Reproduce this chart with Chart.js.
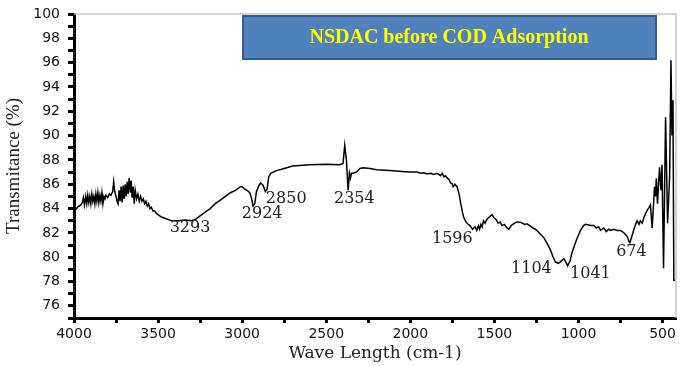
<!DOCTYPE html>
<html>
<head>
<meta charset="utf-8">
<script src="https://cdn.jsdelivr.net/npm/chart.js@4/dist/chart.umd.min.js"></script>
<style>
  body { margin: 0; background: #fff; }
  #wrap { width: 685px; height: 366px; }
</style>
</head>
<body>
<div id="wrap"><canvas id="ftirChart" width="685" height="366"></canvas></div>
<script>
// wave numbers (cm-1), left to right
const waveNumbers = [
  4000, 3990, 3980, 3970, 3960, 3950, 3944, 3938, 3930, 3924, 3918, 3912, 3906, 3900, 3894, 3888,
  3882, 3876, 3870, 3864, 3858, 3852, 3846, 3840, 3834, 3828, 3822, 3816, 3810, 3800, 3790, 3780,
  3770, 3764, 3758, 3750, 3744, 3738, 3732, 3726, 3720, 3714, 3708, 3702, 3696, 3690, 3684, 3678,
  3672, 3665, 3660, 3654, 3648, 3642, 3636, 3628, 3620, 3612, 3604, 3596, 3588, 3580, 3572, 3564,
  3556, 3548, 3540, 3530, 3520, 3510, 3500, 3480, 3460, 3440, 3420, 3380, 3340, 3300, 3280, 3250,
  3220, 3190, 3160, 3130, 3100, 3070, 3040, 3010, 3000, 2985, 2970, 2955, 2945, 2935, 2925, 2915,
  2900, 2890, 2875, 2862, 2852, 2842, 2830, 2800, 2750, 2700, 2600, 2500, 2420, 2400, 2390, 2380,
  2370, 2362, 2356, 2350, 2340, 2320, 2300, 2280, 2240, 2200, 2150, 2100, 2050, 2000, 1960, 1940,
  1920, 1900, 1880, 1860, 1840, 1820, 1810, 1800, 1790, 1780, 1770, 1760, 1752, 1745, 1735, 1722,
  1710, 1700, 1690, 1683, 1670, 1660, 1645, 1630, 1615, 1605, 1595, 1588, 1580, 1573, 1565, 1555,
  1545, 1530, 1514, 1500, 1490, 1478, 1465, 1455, 1440, 1425, 1414, 1400, 1380, 1365, 1340, 1320,
  1306, 1290, 1270, 1256, 1240, 1220, 1206, 1185, 1167, 1150, 1137, 1120, 1100, 1087, 1075, 1064,
  1050, 1040, 1028, 1010, 988, 970, 958, 940, 925, 909, 895, 880, 869, 860, 850, 835,
  820, 810, 790, 770, 750, 730, 710, 700, 694, 685, 670, 660, 651, 640, 632, 621,
  610, 600, 590, 580, 572, 562, 555, 548, 542, 537, 530, 524, 518, 510, 503, 494,
  482, 470, 458, 450, 444, 438, 433, 425
];

// transmittance (%) at each wave number
const transmittance = [
  83.7, 83.9, 84.1, 84.2, 84.3, 84.5, 84.9, 84.3, 85.0, 84.4, 85.1, 84.5, 85.0, 84.4, 85.2, 84.6,
  85.0, 84.4, 85.2, 84.6, 85.3, 84.5, 85.1, 84.6, 85.3, 84.4, 85.0, 84.8, 85.1, 84.9, 85.2, 85.1,
  85.4, 86.2, 85.4, 85.0, 84.6, 84.4, 85.5, 84.6, 85.8, 84.5, 85.9, 84.8, 86.0, 85.0, 86.2, 85.2,
  86.5, 85.3, 86.3, 84.9, 85.8, 84.4, 85.5, 84.8, 85.2, 84.6, 85.0, 84.6, 84.8, 84.4, 84.6, 84.2,
  84.4, 84.0, 84.1, 83.8, 83.8, 83.6, 83.5, 83.3, 83.2, 83.1, 83.0, 83.0, 83.05, 83.0, 83.1, 83.4,
  83.7, 84.0, 84.4, 84.7, 85.0, 85.3, 85.5, 85.8, 85.8, 85.6, 85.5, 85.3, 84.9, 84.2, 84.4, 85.4,
  85.9, 86.1, 85.9, 85.4, 85.6, 86.6, 86.9, 87.1, 87.3, 87.5, 87.6, 87.65, 87.6, 87.7, 89.2, 88.0,
  85.5, 86.9, 86.5, 86.9, 86.9, 87.0, 87.3, 87.35, 87.3, 87.2, 87.15, 87.1, 87.05, 87.0, 87.0, 86.9,
  86.95, 86.85, 86.9, 86.8, 86.9, 86.7, 86.9, 86.6, 86.7, 86.5, 86.4, 86.1, 86.05, 85.8, 86.0, 85.8,
  85.2, 84.4, 83.7, 83.3, 82.9, 82.75, 82.6, 82.3, 82.5, 82.2, 82.6, 82.3, 82.7, 82.5, 83.0, 82.8,
  83.1, 83.3, 83.5, 83.2, 83.1, 82.8, 82.9, 82.6, 82.7, 82.4, 82.3, 82.6, 82.8, 82.9, 82.85, 82.7,
  82.75, 82.6, 82.4, 82.3, 82.1, 81.8, 81.6, 81.1, 80.6, 80.0, 79.6, 79.5, 79.7, 79.9, 79.6, 79.3,
  79.7, 80.3, 80.8, 81.5, 82.2, 82.6, 82.7, 82.65, 82.6, 82.6, 82.4, 82.5, 82.2, 82.3, 82.4, 82.1,
  82.3, 82.2, 82.3, 82.2, 82.2, 82.0, 81.7, 81.3, 81.2, 81.6, 82.3, 82.7, 83.0, 82.7, 83.0, 82.8,
  83.3, 83.6, 83.9, 84.1, 84.3, 82.4, 84.0, 85.8, 85.0, 86.5, 84.4, 86.0, 87.4, 85.5, 87.6, 79.1,
  91.5, 82.8, 86.6, 96.2, 90.0, 92.9, 78.1, 78.1
];

// peak labels: text, anchor wave number, anchor transmittance (text centre)
const peakLabels = ['3293', '2924', '2850', '2354', '1596', '1104', '1041', '674'];
const peakLabelX = [3310, 2881, 2738, 2333, 1750, 1280, 929, 685];
const peakLabelY = [82.45, 83.53, 84.84, 84.84, 81.55, 79.08, 78.67, 80.48];

const xTicks = [4000, 3750, 3500, 3250, 3000, 2750, 2500, 2250, 2000, 1750, 1500, 1250, 1000, 750, 500];
const yTicks = [75, 76, 77, 78, 79, 80, 81, 82, 83, 84, 85, 86, 87, 88, 89, 90, 91, 92, 93, 94, 95, 96, 97, 98, 99, 100];

const chartTitle = 'NSDAC before COD Adsorption';

const points = waveNumbers.map((w, i) => ({ x: w, y: transmittance[i] }));

const extrasPlugin = {
  id: 'extras',
  afterDraw(chart) {
    const ctx = chart.ctx;
    const area = chart.chartArea;
    const xs = chart.scales.x;
    const ys = chart.scales.y;
    ctx.save();

    // light frame on top and right
    ctx.strokeStyle = '#c4c4c4';
    ctx.lineWidth = 1.5;
    ctx.beginPath();
    ctx.moveTo(area.left, area.top);
    ctx.lineTo(area.right, area.top);
    ctx.lineTo(area.right, area.bottom);
    ctx.stroke();

    // peak labels
    ctx.fillStyle = '#222';
    ctx.font = '16px "DejaVu Serif"';
    ctx.textAlign = 'center';
    ctx.textBaseline = 'middle';
    peakLabels.forEach((t, i) => {
      ctx.fillText(t, xs.getPixelForValue(peakLabelX[i]), ys.getPixelForValue(peakLabelY[i]));
    });

    // title box
    ctx.fillStyle = '#4f81bd';
    ctx.strokeStyle = '#385d8a';
    ctx.lineWidth = 2;
    ctx.fillRect(243, 16, 413, 43);
    ctx.strokeRect(243, 16, 413, 43);
    ctx.fillStyle = '#ffff00';
    ctx.font = 'bold 20px "Liberation Serif"';
    ctx.textBaseline = 'alphabetic';
    ctx.fillText(chartTitle, 449, 43);

    ctx.restore();
  }
};

new Chart(document.getElementById('ftirChart'), {
  type: 'line',
  data: {
    datasets: [{
      data: points,
      borderColor: '#000',
      borderWidth: 1.5,
      pointRadius: 0,
      tension: 0,
      fill: false
    }]
  },
  options: {
    responsive: false,
    devicePixelRatio: 1,
    animation: false,
    layout: { padding: { top: 14, right: 9, left: 0, bottom: 0 } },
    plugins: { legend: { display: false }, tooltip: { enabled: false } },
    scales: {
      x: {
        type: 'linear',
        reverse: true,
        min: 420,
        max: 4000,
        afterBuildTicks: (scale) => { scale.ticks = xTicks.map(v => ({ value: v })); },
        afterFit: (scale) => { scale.height = 48; scale.paddingLeft = 0; scale.paddingRight = 0; },
        grid: { drawOnChartArea: false, drawTicks: true, tickLength: 5, tickWidth: 3, tickColor: '#000' },
        border: { display: true, color: '#000', width: 3 },
        ticks: {
          autoSkip: false,
          maxRotation: 0,
          padding: 3,
          color: '#111',
          font: { family: 'DejaVu Sans', size: 14 },
          callback: (v) => (v % 500 === 0 ? String(v) : '')
        },
        title: {
          display: true,
          text: 'Wave Length (cm-1)',
          color: '#222',
          font: { family: 'DejaVu Serif', size: 17 },
          padding: { top: 0, bottom: 2 }
        }
      },
      y: {
        min: 75,
        max: 100,
        afterBuildTicks: (scale) => { scale.ticks = yTicks.map(v => ({ value: v })); },
        afterFit: (scale) => { scale.width = 74; scale.paddingTop = 0; scale.paddingBottom = 0; },
        grid: { drawOnChartArea: false, drawTicks: true, tickLength: 6, tickWidth: 3, tickColor: '#000' },
        border: { display: true, color: '#000', width: 3 },
        ticks: {
          autoSkip: false,
          padding: 8,
          color: '#111',
          font: { family: 'DejaVu Sans', size: 14 },
          callback: (v) => (v % 2 === 0 ? String(v) : '')
        },
        title: {
          display: true,
          text: 'Transmitance (%)',
          color: '#222',
          font: { family: 'Liberation Serif', size: 19 },
          padding: { top: 3, bottom: 0 }
        }
      }
    }
  },
  plugins: [extrasPlugin]
});
</script>
</body>
</html>
